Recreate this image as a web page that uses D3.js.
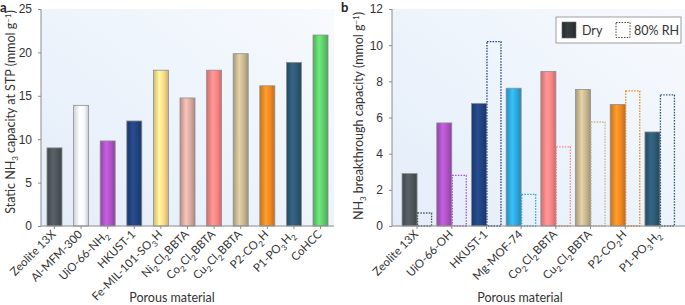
<!DOCTYPE html>
<html>
<head>
<meta charset="utf-8">
<script src="https://cdn.jsdelivr.net/npm/d3@7"></script>
<style>
  body { margin: 0; background: #fff; }
  svg { display: block; font-family: Lato, "Open Sans", sans-serif; }
  .axis path, .axis line { stroke: #8c8c8c; }
  .axis text { fill: #333; font-size: 12px; }
</style>
</head>
<body>
<div id="chart"></div>
<script>
// panel a data
var staticNames = ['Zeolite 13X', 'Al-MFM-300', 'UiO-66-NH_2', 'HKUST-1', 'Fe-MIL-101-SO_3H',
  'Ni_2Cl_2BBTA', 'Co_2Cl_2BBTA', 'Cu_2Cl_2BBTA', 'P2-CO_2H', 'P1-PO_3H_2', 'CoHCC'];
var staticValues = [9.0, 13.9, 9.8, 12.1, 17.95, 14.75, 17.95, 19.85, 16.15, 18.85, 22.0];
var staticColors = ['#4d5559', '#f7faff', '#ad52c4', '#21427f', '#fdd98a', '#d8aaa2',
  '#fb8484', '#c8b791', '#ee8823', '#2d5873', '#5fcd6c'];
var staticTicks = [0, 5, 10, 15, 20, 25];

// panel b data
var breakNames = ['Zeolite 13X', 'UiO-66-OH', 'HKUST-1', 'Mg-MOF-74', 'Co_2Cl_2BBTA',
  'Cu_2Cl_2BBTA', 'P2-CO_2H', 'P1-PO_3H_2'];
var dryValues = [2.9, 5.7, 6.78, 7.62, 8.55, 7.55, 6.72, 5.2];
var wetValues = [0.72, 2.8, 10.2, 1.75, 4.38, 5.75, 7.47, 7.25];
var breakColors = ['#4d5559', '#ad52c4', '#21427f', '#2ea7dc', '#fb8484', '#c8b791', '#ee8823', '#2d5873'];
var breakTicks = [0, 2, 4, 6, 8, 10, 12];

var W = 685, H = 305;
var plotTop = 9, plotBottom = 226;

var svg = d3.select('#chart').append('svg').attr('width', W).attr('height', H);
var defs = svg.append('defs');

var bg = defs.append('linearGradient').attr('id', 'bg')
  .attr('x1', '0').attr('y1', '1').attr('x2', '1').attr('y2', '0');
bg.append('stop').attr('offset', '0').attr('stop-color', '#e3edf9');
bg.append('stop').attr('offset', '1').attr('stop-color', '#f7fafe');

var gradIds = {};
function barGrad(color) {
  if (gradIds[color]) return gradIds[color];
  var id = 'g' + Object.keys(gradIds).length;
  var c = d3.color(color);
  var g = defs.append('linearGradient').attr('id', id).attr('x1', '0').attr('x2', '1');
  g.append('stop').attr('offset', '0').attr('stop-color', c.darker(0.5));
  g.append('stop').attr('offset', '0.4').attr('stop-color', c.brighter(0.4));
  g.append('stop').attr('offset', '0.7').attr('stop-color', c);
  g.append('stop').attr('offset', '1').attr('stop-color', c.darker(0.6));
  gradIds[color] = 'url(#' + id + ')';
  return gradIds[color];
}

// text with "_" marking subscripts
function subText(sel, str, size) {
  var parts = str.split(/(_\d)/);
  parts.forEach(function(p) {
    if (!p) return;
    if (p[0] === '_') {
      sel.append('tspan').attr('dy', size * 0.3).style('font-size', (size * 0.7) + 'px').text(p.slice(1));
      sel.append('tspan').attr('dy', -size * 0.3).text('\u200a');
    } else {
      sel.append('tspan').text(p);
    }
  });
}

function yTitle(x, y, parts) {
  var t = svg.append('text').attr('transform', 'translate(' + x + ',' + y + ') rotate(-90)')
    .attr('text-anchor', 'middle').style('font-size', '12.5px').attr('fill', '#333');
  parts.forEach(function(p) {
    var s = t.append('tspan').text(p[0]);
    if (p[1] === 'sub') s.attr('dy', 3).style('font-size', '8px');
    if (p[1] === 'sup') s.attr('dy', -4).style('font-size', '8px');
    if (p[1] === 'back') s.attr('dy', p[2]);
  });
}

function xLabels(g, names, x, y0) {
  names.forEach(function(n) {
    var t = g.append('text')
      .attr('transform', 'translate(' + (x(n) + 2) + ',' + (y0 + 9) + ') rotate(-45)')
      .attr('text-anchor', 'end').attr('fill', '#333').style('font-size', '11.5px');
    subText(t, n, 11.5);
  });
}

// ---------- panel a ----------
var xa = d3.scaleBand().domain(staticNames).range([41, 334]).paddingInner(0.436).paddingOuter(0.225);
var ya = d3.scaleLinear().domain([0, 25]).range([plotBottom, plotTop]);

svg.append('rect').attr('x', 41).attr('y', plotTop).attr('width', 293).attr('height', plotBottom - plotTop).attr('fill', 'url(#bg)');

svg.selectAll('.bara').data(staticNames).enter().append('rect')
  .attr('class', 'bara')
  .attr('x', function(d) { return xa(d); })
  .attr('y', function(d, i) { return ya(staticValues[i]); })
  .attr('width', xa.bandwidth())
  .attr('height', function(d, i) { return ya(0) - ya(staticValues[i]); })
  .attr('fill', function(d, i) { return barGrad(staticColors[i]); })
  .attr('stroke', '#8e8e8e').attr('stroke-width', 0.8);

svg.append('g').attr('class', 'axis').attr('transform', 'translate(41,0)')
  .call(d3.axisLeft(ya).tickValues(staticTicks).tickSize(3).tickPadding(6))
  .call(function(g) { g.select('.domain').attr('d', 'M0,' + plotBottom + 'V' + plotTop); });
var xaxA = svg.append('g').attr('class', 'axis').attr('transform', 'translate(0,' + plotBottom + ')')
  .call(d3.axisBottom(xa).tickSize(3).tickSizeOuter(0).tickFormat(''));
xaxA.select('.domain').attr('d', 'M41,0H334');
xLabels(svg.append('g'), staticNames, function(n) { return xa(n) + xa.bandwidth() / 2; }, plotBottom);

yTitle(15, 112, [['Static NH'], ['3', 'sub'], [' capacity at STP (mmol g', 'back', -3], ['\u22121', 'sup'], [')', 'back', 4]]);
svg.append('text').attr('x', 172).attr('y', 302).attr('text-anchor', 'middle')
  .style('font-size', '12.5px').attr('fill', '#333').text('Porous material');
svg.append('text').attr('x', 0).attr('y', 12).style('font-size', '13px').style('font-weight', 'bold')
  .attr('fill', '#222').text('a');

// ---------- panel b ----------
var xb = d3.scaleBand().domain(breakNames).range([392, 685]).paddingInner(0.135).paddingOuter(0.29);
var xs = d3.scaleBand().domain(['dry', 'wet']).range([0, xb.bandwidth()]);
var yb = d3.scaleLinear().domain([0, 12]).range([plotBottom, plotTop]);

svg.append('rect').attr('x', 392).attr('y', plotTop).attr('width', 293).attr('height', plotBottom - plotTop).attr('fill', 'url(#bg)');

var groups = svg.selectAll('.grp').data(breakNames).enter().append('g')
  .attr('class', 'grp')
  .attr('transform', function(d) { return 'translate(' + xb(d) + ',0)'; });
groups.append('rect')
  .attr('x', xs('dry'))
  .attr('y', function(d, i) { return yb(dryValues[i]); })
  .attr('width', xs.bandwidth())
  .attr('height', function(d, i) { return yb(0) - yb(dryValues[i]); })
  .attr('fill', function(d, i) { return barGrad(breakColors[i]); })
  .attr('stroke', '#8e8e8e').attr('stroke-width', 0.8);
groups.append('rect')
  .attr('x', xs('wet') + 0.5)
  .attr('y', function(d, i) { return yb(wetValues[i]); })
  .attr('width', xs.bandwidth() - 1)
  .attr('height', function(d, i) { return yb(0) - yb(wetValues[i]); })
  .attr('fill', 'none')
  .attr('stroke', function(d, i) { return breakColors[i]; })
  .attr('stroke-width', 1.3).attr('stroke-dasharray', '1.5,1.3');

svg.append('g').attr('class', 'axis').attr('transform', 'translate(392,0)')
  .call(d3.axisLeft(yb).tickValues(breakTicks).tickSize(3).tickPadding(6))
  .call(function(g) { g.select('.domain').attr('d', 'M0,' + plotBottom + 'V' + plotTop); });
var xaxB = svg.append('g').attr('class', 'axis').attr('transform', 'translate(0,' + plotBottom + ')')
  .call(d3.axisBottom(xb).tickSize(3).tickSizeOuter(0).tickFormat(''));
xaxB.select('.domain').attr('d', 'M392,0H685');
xLabels(svg.append('g'), breakNames, function(n) { return xb(n) + xb.bandwidth() / 2; }, plotBottom);

yTitle(363, 116, [['NH'], ['3', 'sub'], [' breakthrough capacity (mmol g', 'back', -3], ['\u22121', 'sup'], [')', 'back', 4]]);
svg.append('text').attr('x', 520).attr('y', 302).attr('text-anchor', 'middle')
  .style('font-size', '12.5px').attr('fill', '#333').text('Porous material');
svg.append('text').attr('x', 341).attr('y', 12).style('font-size', '13px').style('font-weight', 'bold')
  .attr('fill', '#222').text('b');

// legend
var lg = svg.append('g').attr('transform', 'translate(556,17)');
lg.append('rect').attr('width', 125).attr('height', 26).attr('fill', '#fff').attr('stroke', '#888').attr('stroke-width', 0.8);
lg.append('rect').attr('x', 6).attr('y', 5).attr('width', 14).attr('height', 16)
  .attr('fill', barGrad('#2f3538')).attr('stroke', '#666').attr('stroke-width', 0.6);
lg.append('text').attr('x', 26).attr('y', 17.5).style('font-size', '12.5px').attr('fill', '#333').text('Dry');
lg.append('rect').attr('x', 60).attr('y', 5.5).attr('width', 14).attr('height', 15)
  .attr('fill', 'none').attr('stroke', '#444').attr('stroke-width', 1).attr('stroke-dasharray', '1.5,1.3');
lg.append('text').attr('x', 78).attr('y', 17.5).style('font-size', '12.5px').attr('fill', '#333').text('80% RH');
</script>
</body>
</html>
